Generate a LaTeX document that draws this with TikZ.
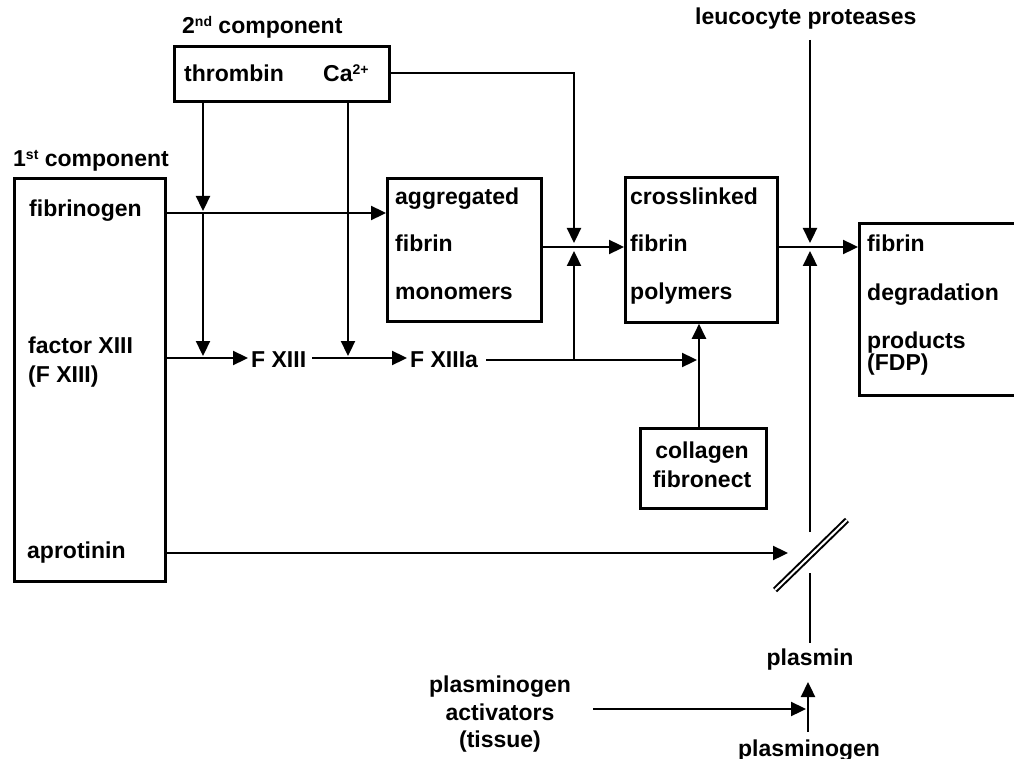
\documentclass[tikz,border=0pt]{standalone}
\usepackage{fontspec}
\setmainfont{Liberation Sans}
\usetikzlibrary{arrows.meta}
\newcommand{\supsm}[1]{\raisebox{7.5pt}{\fontsize{14}{14}\selectfont #1}}
\begin{document}
\begin{tikzpicture}[x=1pt,y=-1pt,
  txt/.style={inner sep=0pt, font=\fontsize{23}{27.5}\selectfont\bfseries, anchor=base west},
  ctxt/.style={txt, anchor=base},
  box/.style={draw, line width=2.8pt, inner sep=0pt, anchor=north west},
  conn/.style={line width=2.3pt},
  arr/.style={conn, -{Triangle[length=15pt,width=14pt]}},
  slash/.style={double=white, double distance=2pt, line width=2pt}
]
\useasboundingbox (0,0) rectangle (1014,759);

% boxes
\node[box, minimum width=215pt, minimum height=55pt] (b2) at (173,45) {};
\node[box, minimum width=151pt, minimum height=403pt] (b1) at (13,177) {};
\node[box, minimum width=154pt, minimum height=143pt] (agg) at (386,177) {};
\node[box, minimum width=152pt, minimum height=145pt] (cross) at (624,176) {};
\node[box, minimum width=126pt, minimum height=80pt] (coll) at (639,427) {};
\node[box, minimum width=180pt, minimum height=172pt] (fdp) at (858,222) {};

% texts
\node[txt] (l2) at (182,34) {2\supsm{nd} component};
\node[txt] (thr) at (184,82) {thrombin};
\node[txt] (ca) at (323,82) {Ca\supsm{2+}};
\node[txt] (l1) at (13,167) {1\supsm{st} component};
\node[txt] (fib) at (29,217) {fibrinogen};
\node[txt] (f13) at (28,353) {factor XIII};
\node[txt] (f13b) at (28,382) {(F XIII)};
\node[txt] (apr) at (27,558) {aprotinin};
\node[txt] (fx) at (251,367) {F XIII};
\node[txt] (fxa) at (410,367) {F XIIIa};
\node[txt] (agg1) at (395,205) {aggregated};
\node[txt] (agg2) at (395,252) {fibrin};
\node[txt] (agg3) at (395,299) {monomers};
\node[txt] (cr1) at (630,205) {crosslinked};
\node[txt] (cr2) at (630,252) {fibrin};
\node[txt] (cr3) at (630,299) {polymers};
\node[txt] (fd1) at (867,252) {fibrin};
\node[txt] (fd2) at (867,300) {degradation};
\node[txt] (fd3) at (867,348) {products};
\node[txt] (fd4) at (867,370) {(FDP)};
\node[ctxt] (co1) at (702,458) {collagen};
\node[ctxt] (co2) at (702,487) {fibronect};
\node[txt] (leu) at (695,25) {leucocyte proteases};
\node[ctxt] (pl) at (810,665) {plasmin};
\node[ctxt] (pg) at (809,756) {plasminogen};
\node[ctxt] (pa1) at (500,692) {plasminogen};
\node[ctxt] (pa2) at (500,720) {activators};
\node[ctxt] (pa3) at (500,747) {(tissue)};

% coordinates
\coordinate (tA) at (203,213);
\coordinate (tB) at (203,358);
\coordinate (cB) at (348,358);
\coordinate (k) at (699,360);
\coordinate (j1) at (574,247);
\coordinate (j1top) at (574,73);
\coordinate (j2) at (810,247);
\coordinate (j2top) at (810,40);
\coordinate (sa) at (810,532);
\coordinate (sb) at (810,573);
\coordinate (sc) at (810,643);
\coordinate (s1) at (775,590);
\coordinate (s2) at (847,520);
\coordinate (aend) at (788,553);
\coordinate (pp0) at (808,732);
\coordinate (pp1) at (808,682);
\coordinate (pas) at (593,709);
\coordinate (pae) at (806,709);

% connectors
\draw[arr] (b2.south -| tA) -- ([yshift=2pt]tA);
\draw[arr] (tA) -- ([yshift=2pt]tB);
\draw[arr] (b2.south -| cB) -- ([yshift=2pt]cB);
\draw[arr] (b1.east |- tA) -- (agg.west |- tA);
\draw[arr] (b1.east |- tB) -- ([xshift=-3pt]fx.west |- tB);
\draw[arr] ([xshift=6pt]fx.east |- tB) -- ([xshift=-3pt]fxa.west |- tB);
\draw[arr] ([xshift=8pt]fxa.east |- k) -- ([xshift=-2pt]k);
\draw[arr] (coll.north -| k) -- (cross.south -| k);
\draw[arr] (agg.east |- j1) -- (cross.west |- j1);
\draw[arr] (b2.east |- j1top) -- (j1top) -- ([yshift=4pt]j1);
\draw[arr] (j1 |- k) -- ([yshift=-4pt]j1);
\draw[arr] (cross.east |- j2) -- (fdp.west |- j2);
\draw[arr] (j2top) -- ([yshift=4pt]j2);
\draw[arr] (sa) -- ([yshift=-4pt]j2);
\draw[conn] (sb) -- (sc);
\draw[slash] (s1) -- (s2);
\draw[arr] (b1.east |- aend) -- (aend);
\draw[arr] (pp0) -- (pp1);
\draw[arr] (pas) -- (pae);
\end{tikzpicture}
\end{document}
